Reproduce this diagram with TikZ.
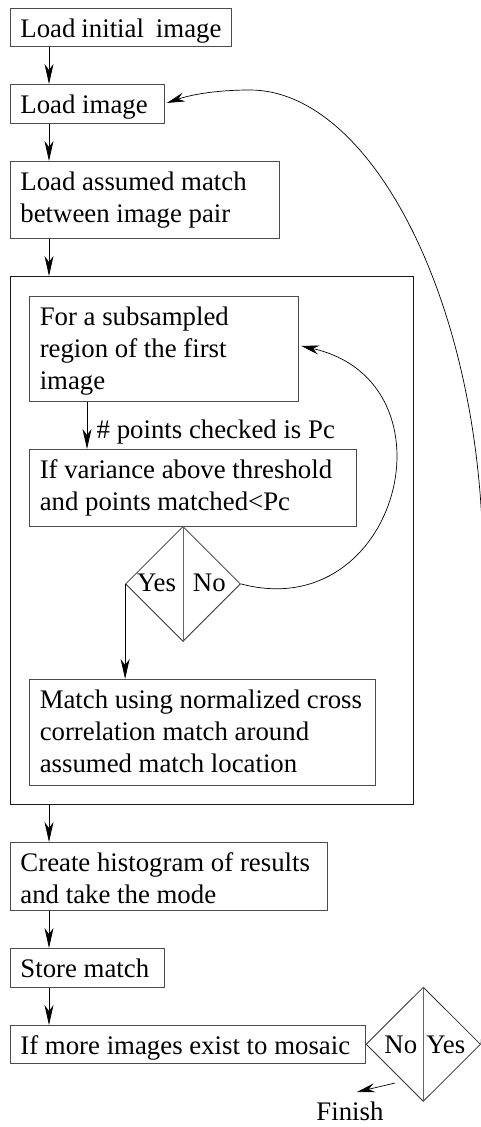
\documentclass[tikz,border=0pt]{standalone}
\usepackage{fontspec}
\setmainfont{Liberation Serif}
\usetikzlibrary{arrows.meta,shapes.geometric,calc}
% left-aligned box text whose baseline is the first line
\newcommand\steptext[2]{\parbox[t]{#1}{#2}}

\begin{document}
\begin{tikzpicture}[x=1pt,y=-1pt,
  txt/.style={font=\fontsize{26.8}{32.4}\selectfont},
  stepbox/.style={txt,draw=black!70,line width=0.9pt,anchor=north west,
    inner xsep=10pt,inner ysep=0pt,text height=28.7pt},
  frame/.style={draw=black!90,line width=0.9pt,anchor=north west,inner sep=0pt},
  choice/.style={diamond,draw=black!80,line width=0.8pt,inner sep=0pt,anchor=north},
  divider/.style={draw=black!60,line width=0.9pt},
  lbl/.style={txt,inner sep=0pt,anchor=base},
  arr/.style={draw=black,line width=0.8pt,-{Stealth[length=20pt,width=9pt,inset=6pt]}},
  loop/.style={draw=black,line width=0.7pt,-{Stealth[length=18pt,width=9pt,inset=6pt]}}
]
\path[use as bounding box, clip] (0,0) rectangle (481,1127);

% main column of steps
\node[stepbox,text depth=9.3pt]  (b1) at (10,8)   {\steptext{201pt}{Load initial\ \ image}};
\node[stepbox,text depth=10.3pt] (b2) at (10,84)  {\steptext{134pt}{Load image}};
\node[stepbox,text depth=48.3pt] (b3) at (10,161) {\steptext{249pt}{Load assumed match\\between image pair}};

% matching loop
\node[frame,minimum width=403pt,minimum height=528pt] (outer) at (10,276) {};
\node[stepbox,text depth=76.3pt] (b4) at (29.3,296) {\steptext{249pt}{For a subsampled\\region of the first\\image}};
\node[stepbox,text depth=48.3pt] (b5) at (29.3,449) {\steptext{307pt}{If variance above threshold\\and points matched<Pc}};
\node[choice,minimum width=115pt,minimum height=115pt] (d1) at (183,526) {};
\draw[divider] (d1.north) -- (d1.south);
\node[lbl] (yes1) at (156.5,591.7) {Yes};
\node[lbl] (no1)  at (209.3,591.7) {No};
\node[stepbox,text depth=77pt] (b6) at (29.3,679) {\steptext{326pt}{Match using normalized cross\\correlation match around\\assumed match location}};

% after the loop
\node[stepbox,text depth=39.3pt] (b7) at (10,842)  {\steptext{297pt}{Create histogram of results\\and take the mode}};
\node[stepbox,text depth=10.3pt] (b8) at (10,948)  {\steptext{134pt}{Store match}};
\node[stepbox,text depth=9.3pt]  (b9) at (10,1025) {\steptext{335pt}{If more images exist to mosaic}};
\node[choice,minimum width=114.5pt,minimum height=114.3pt] (d2) at (423.3,986.7) {};
\draw[divider] (d2.north) -- (d2.south);
\node[lbl] (no2)  at (400.8,1053.3) {No};
\node[lbl] (yes2) at (445.8,1053.3) {Yes};
\node[lbl] (fin)  at (350,1120) {Finish};

% straight connectors
\coordinate (col) at (49,0);
\coordinate (col2) at (87,0);
\draw[arr] (b1.south -| col) -- (b2.north -| col);
\draw[arr] (b2.south -| col) -- (b3.north -| col);
\draw[arr] (b3.south -| col) -- (outer.north -| col);
\draw[arr] (b4.south -| col2) -- (b5.north -| col2);
\node[lbl,anchor=base west] (pc) at (96.5,438.3) {\# points checked is Pc};
\draw[arr] (d1.west) -- (d1.west |- b6.north);
\draw[arr] (outer.south -| col) -- (b7.north -| col);
\draw[arr] (b7.south -| col) -- (b8.north -| col);
\draw[arr] (b8.south -| col) -- (b9.north -| col);

% "No" returns to the next region
\draw[loop] (d1.east) .. controls (399,626) and (461,382) .. ($(b4.east)+(2,-3)$);

% "Yes" returns to the next image
\draw[loop] (d2.east) .. controls (492,900) and (492,700) .. (483,560)
  .. controls (481,300) and (370,90) .. (250,90)
  .. controls (215,90) and (190,95) .. ($(b2.east)+(2,-1)$);

% exit
\coordinate (fs) at (395,1083);
\coordinate (ft) at (357,1092);
\draw[loop] (fs) -- (ft);
\end{tikzpicture}
\end{document}
